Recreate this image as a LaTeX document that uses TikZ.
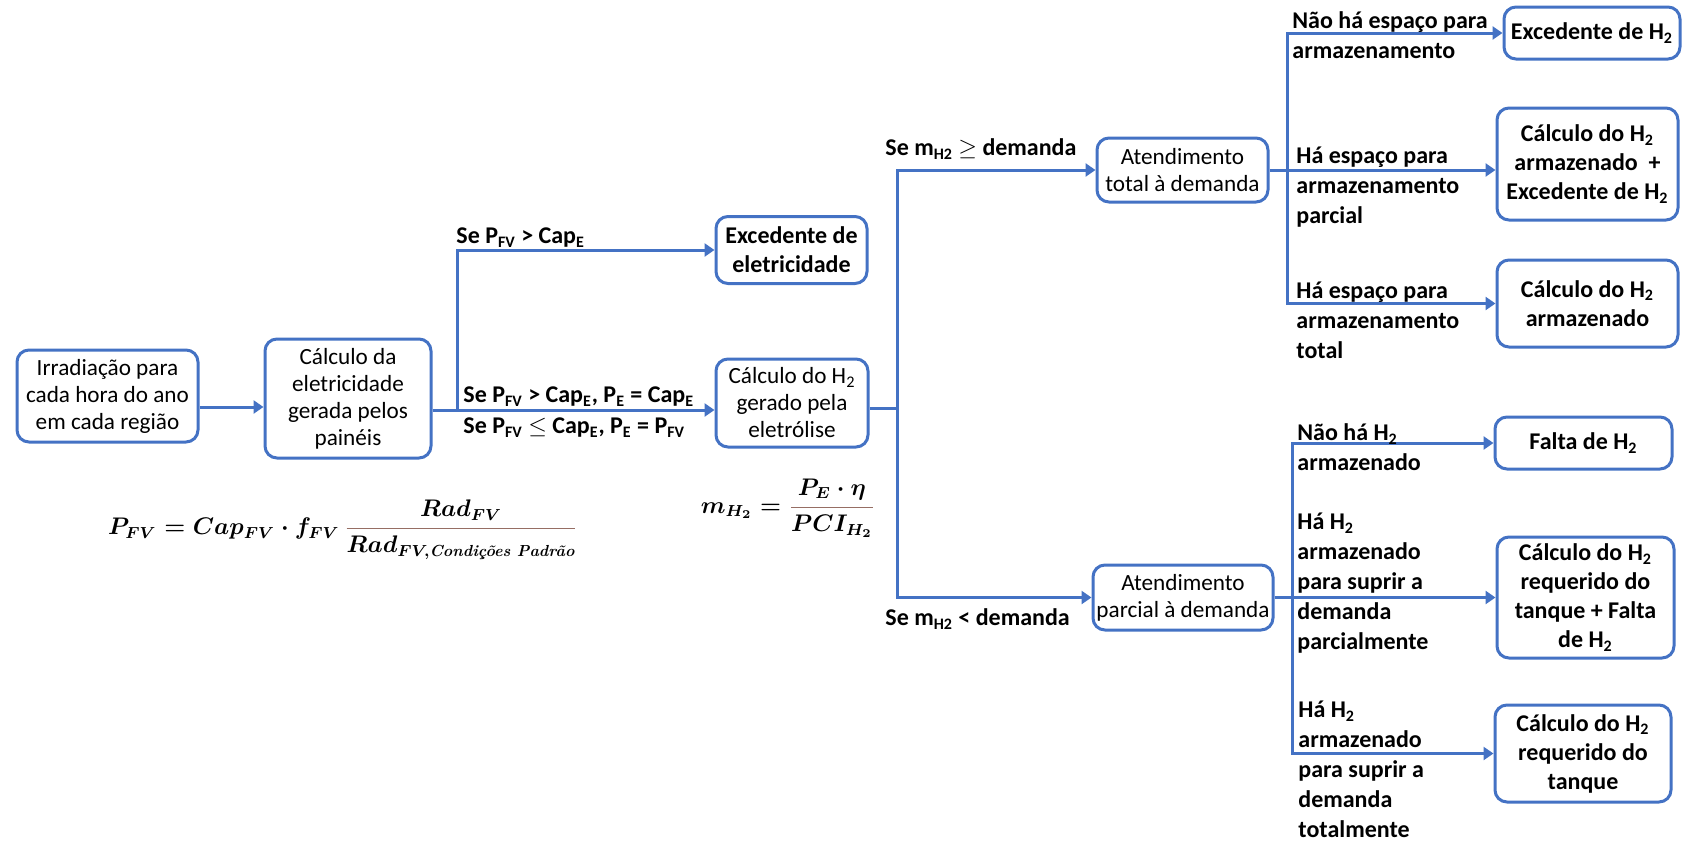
\documentclass[tikz,border=0pt]{standalone}
\usepackage{amsmath}
\usepackage{fontspec}
\setsansfont{Carlito}
\usetikzlibrary{arrows.meta}
\definecolor{ob}{RGB}{68,114,196}
\definecolor{fracline}{RGB}{150,110,100}
\newcommand\dn[1]{\textsubscript{#1}}
\newcommand\fl{\rule{0pt}{12pt}}
\tikzset{
 box/.style={draw=ob, line width=1.5pt, rounded corners=6pt, align=center, inner sep=0pt, text=black, font=\sffamily\fontsize{11.6}{13.5}\selectfont},
 bbox/.style={box, font=\sffamily\bfseries\fontsize{12}{14.5}\selectfont},
 lab/.style={anchor=north west, align=left, inner sep=0pt, font=\sffamily\bfseries\fontsize{12}{15}\selectfont},
 link/.style={draw=ob, line width=1.5pt},
 arr/.style={link, -{Triangle[width=6.5pt,length=5pt]}},
 frm/.style={inner sep=0pt, font=\fontsize{12}{14}\selectfont\boldmath},
}
\begin{document}
\begin{tikzpicture}[x=0.5pt,y=-0.5pt]
\useasboundingbox (0,0) rectangle (1682,846);
\fill[white] (0,0) rectangle (1682,846);
% boxes
\node[box, minimum width=90.5pt, minimum height=46pt] (b1) at (107.5,396) {Irradiação para\\cada hora do ano\\em cada região};
\node[box, minimum width=83pt, minimum height=59.5pt] (b2) at (348,398.5) {Cálculo da\\eletricidade\\gerada pelos\\painéis};
\node[bbox, minimum width=75.5pt, minimum height=33.5pt] (b3) at (791.5,250) {Excedente de\\eletricidade};
\node[box, minimum width=76pt, minimum height=44pt] (b4) at (792,403) {Cálculo do H\dn{2}\\gerado pela\\eletrólise};
\node[box, minimum width=85.5pt, minimum height=32pt] (b5) at (1182.5,170) {Atendimento\\total à demanda};
\node[box, minimum width=90pt, minimum height=32.5pt] (b6) at (1183,597.5) {Atendimento\\parcial à demanda};
\node[bbox, minimum width=88pt, minimum height=26pt] (b7) at (1592,33) {Excedente de H\dn{2}};
\node[bbox, minimum width=90.5pt, minimum height=56pt] (b8) at (1587.5,164) {Cálculo do H\dn{2}\\armazenado \ +\\Excedente de H\dn{2}};
\node[bbox, minimum width=90.5pt, minimum height=43.5pt] (b9) at (1587.5,303.5) {Cálculo do H\dn{2}\\armazenado};
\node[bbox, minimum width=88.5pt, minimum height=26pt] (b10) at (1583.5,443) {Falta de H\dn{2}};
\node[bbox, minimum width=88.5pt, minimum height=60.5pt] (b11) at (1585.5,597.5) {Cálculo do H\dn{2}\\requerido do\\tanque + Falta\\de H\dn{2}};
\node[bbox, minimum width=88pt, minimum height=48.5pt] (b12) at (1583,753.5) {Cálculo do H\dn{2}\\requerido do\\tanque};
% junctions
\coordinate (j1) at (0,407);
\coordinate (s1) at (457,410);
\coordinate (s2) at (897,408);
\coordinate (s3) at (1287,0);
\coordinate (s4) at (1292,0);
% connectors
\draw[arr] (b1.east |- j1) -- (b2.west |- j1);
\draw[arr] (b2.east |- s1) -- (b4.west |- s1);
\draw[arr] (s1) |- (b3.west);
\draw[link] (b4.east |- s2) -- (s2);
\draw[arr] (s2) |- (b5.west);
\draw[arr] (s2) |- (b6.west);
\draw[link] (b5.east) -- (b5.east -| s3);
\draw[arr] (b5.east -| s3) |- (b7.west);
\draw[arr] (b5.east -| s3) -- (b8.west |- b5.east);
\draw[arr] (b5.east -| s3) |- (b9.west);
\draw[link] (b6.east) -- (b6.east -| s4);
\draw[arr] (b6.east -| s4) |- (b10.west);
\draw[arr] (b6.east -| s4) -- (b11.west);
\draw[arr] (b6.east -| s4) |- (b12.west);
% labels
\node[lab] (l1) at (456,219) {\fl Se P\dn{FV} > Cap\dn{E}};
\node[lab] (l2) at (463,378) {\fl Se P\dn{FV} > Cap\dn{E}, P\dn{E} = Cap\dn{E}};
\node[lab] (l3) at (463,409) {\fl Se P\dn{FV} $\leq$ Cap\dn{E}, P\dn{E} = P\dn{FV}};
\node[lab] (l4) at (885,131) {\fl Se m\dn{H2} $\geq$ demanda};
\node[lab] (l5) at (885,601) {\fl Se m\dn{H2} < demanda};
\node[lab] (l6) at (1292,4) {\fl Não há espaço para\\armazenamento};
\node[lab] (l7) at (1296,139) {\fl Há espaço para\\armazenamento\\parcial};
\node[lab] (l8) at (1296,274) {\fl Há espaço para\\armazenamento\\total};
\node[lab] (l9) at (1297,416) {\fl Não há H\dn{2}\\armazenado};
\node[lab] (l10) at (1297,505) {\fl Há H\dn{2}\\armazenado\\para suprir a\\demanda\\parcialmente};
\node[lab] (l11) at (1298,693) {\fl Há H\dn{2}\\armazenado\\para suprir a\\demanda\\totalmente};
% formulas
\node[frm] (f1) at (343,530) {$P_{FV} = Cap_{FV}\cdot f_{FV}\,{\color{fracline}\dfrac{\color{black}Rad_{FV}}{\color{black}Rad_{FV,\text{\rmfamily\bfseries\itshape Condições Padrão}}}}$};
\node[frm] (f2) at (788,508) {$m_{H_2} = {\color{fracline}\dfrac{\color{black}P_E\cdot \eta}{\color{black}PCI_{H_2}}}$};
\end{tikzpicture}
\end{document}
